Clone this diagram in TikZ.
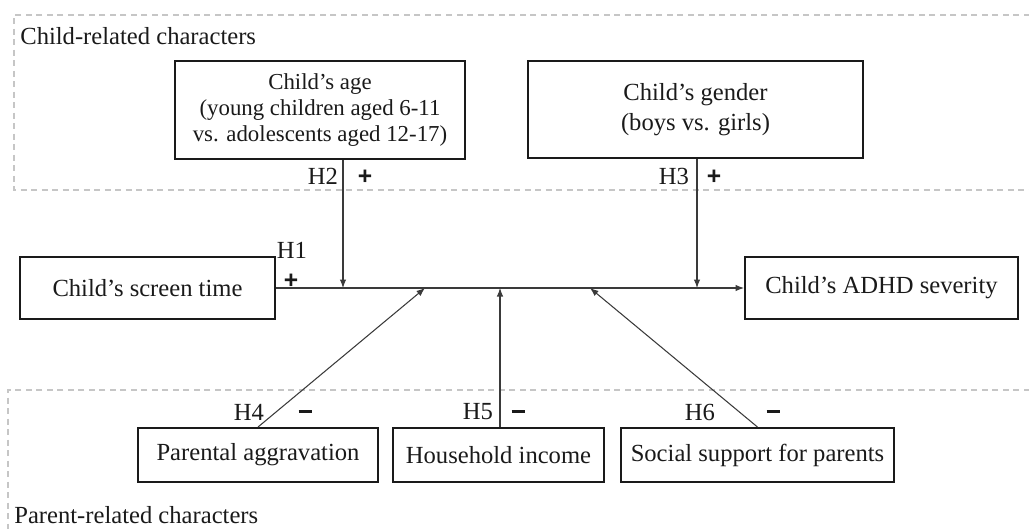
\documentclass[tikz,border=0pt]{standalone}
\usepackage{fontspec}
\setmainfont{Liberation Serif}
\newfontfamily\signfont{Liberation Sans}
\usetikzlibrary{arrows.meta}
\definecolor{ink}{HTML}{1A1A1A}
\definecolor{wire}{HTML}{3A3A3A}
\definecolor{frameL}{HTML}{C6C6C6}
\newcommand{\negsign}{\rule{2.6mm}{0.6mm}}

\begin{document}
\begin{tikzpicture}[
  % one unit = one pixel of the 1029 x 529 layout, y pointing down
  x=0.2mm, y=-0.2mm,
  >={Latex[length=1.7mm, width=1.3mm]},
  font=\fontsize{14}{14.5}\selectfont,
  var/.style={
    draw=ink, line width=1.1pt, align=center,
    inner sep=2pt, minimum width=#1, text=ink,
  },
  var/.default=50mm,
  arr/.style={->, line width=0.6pt, color=wire},
  group/.style={draw=frameL, line width=0.8pt, dash pattern=on 1.2mm off 0.9mm},
  hyp/.style={inner sep=0pt, text=ink},
  sign/.style={inner sep=0pt, text=ink, font=\signfont\bfseries\fontsize{14}{14}\selectfont},
]
  \useasboundingbox (0,0) rectangle (1029,529);

  % --- the two groups of moderators ---
  \draw[group] (1040,15) -- (14,15) -- (14,190) -- (1040,190);
  \draw[group] (1040,390) -- (8,390) -- (8,540);
  \node[anchor=base west, inner sep=0pt, text=ink] (childgrp) at (20,45) {Child-related characters};
  \node[anchor=base west, inner sep=0pt, text=ink] (parentgrp) at (14,523) {Parent-related characters};

  % --- variables ---
  \node[var=58mm, minimum height=19.6mm, font=\fontsize{13}{15}\selectfont] (age) at (320,110)
    {Child's age\\(young children aged 6-11\\vs. adolescents aged 12-17)};
  \node[var=67mm, minimum height=19.4mm] (gender) at (695.5,109.5)
    {Child's gender\\[3pt](boys vs. girls)};
  \node[var=51mm, minimum height=12.4mm] (screen) at (147.5,288) {Child's screen time};
  \node[var=54.6mm, minimum height=12.4mm] (adhd) at (881.5,288) {Child's ADHD severity};
  \foreach \n/\x/\w/\txt in {
      aggr/258/48mm/Parental aggravation,
      income/498.5/42.2mm/Household income,
      support/757.5/54.6mm/Social support for parents%
  }{
    \node[var=\w, minimum height=10.8mm] (\n) at (\x,455) {\txt};
  }

  % --- main path and the moderating arrows ---
  \foreach \k/\x in {2/343, 3/697, 4/425, 5/500, 6/590}{
    \coordinate (m\k) at (\x,288);
  }
  \draw[arr] (screen) -- (adhd);
  \draw[arr] (age.south -| m2) -- (m2);
  \draw[arr] (gender.south -| m3) -- (m3);
  \draw[arr] (aggr.north) -- (m4);
  \draw[arr] (income.north -| m5) -- (m5);
  \draw[arr] (support.north) -- (m6);

  % --- hypotheses and their signs ---
  \foreach \k/\hx/\hy/\sx/\sy/\sg in {
      1/292/250/291/281/+,
      2/323/176/365/177/+,
      3/674/176/714/177/+,
      4/249/412/305/411/\negsign,
      5/478/412/518/411/\negsign,
      6/700/412/773/411/\negsign%
  }{
    \node[hyp] (h\k) at (\hx,\hy) {H\k};
    \node[sign] (s\k) at (\sx,\sy) {\sg};
  }
\end{tikzpicture}
\end{document}
